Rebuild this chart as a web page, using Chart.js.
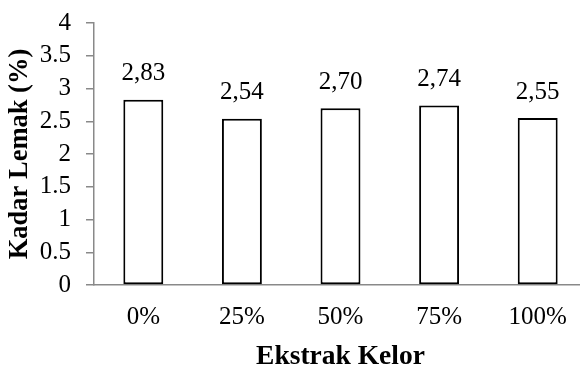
<!DOCTYPE html>
<html>
<head>
<meta charset="utf-8">
<title>Kadar Lemak</title>
<script src="https://cdn.jsdelivr.net/npm/chart.js@4/dist/chart.umd.min.js"></script>
<style>
  html, body { margin: 0; padding: 0; background: #fff; overflow: hidden; }
  #wrap { width: 588px; height: 365px; }
</style>
</head>
<body>
<div id="wrap"><canvas id="lemakChart" width="588" height="365"></canvas></div>
<script>
var categories = ['0%', '25%', '50%', '75%', '100%'];
var kadarLemak = [2.83, 2.54, 2.70, 2.74, 2.55];
var yTicks = [0, 0.5, 1, 1.5, 2, 2.5, 3, 3.5, 4];

var serif = '"Liberation Serif", "Times New Roman", serif';
var axisGrey = '#898989';

// nilai di atas batang, pakai koma desimal
var valueLabels = {
    id: 'valueLabels',
    afterDatasetsDraw: function(chart) {
        var ctx = chart.ctx;
        var meta = chart.getDatasetMeta(0);
        ctx.save();
        ctx.font = '25px ' + serif;
        ctx.fillStyle = '#000';
        ctx.textAlign = 'center';
        ctx.textBaseline = 'middle';
        meta.data.forEach(function(bar, i) {
            var text = kadarLemak[i].toFixed(2).replace('.', ',');
            ctx.fillText(text, bar.x, bar.y - 26);
        });
        ctx.restore();
    }
};

var ctx = document.getElementById('lemakChart').getContext('2d');
var chart = new Chart(ctx, {
    type: 'bar',
    data: {
        labels: categories,
        datasets: [{
            data: kadarLemak,
            backgroundColor: '#ffffff',
            borderColor: '#000000',
            borderWidth: 2,
            borderSkipped: false,
            barPercentage: 0.405,
            categoryPercentage: 1
        }]
    },
    options: {
        responsive: false,
        animation: false,
        layout: { padding: { top: 23, left: 0, right: 1, bottom: 0 } },
        plugins: {
            legend: { display: false },
            tooltip: { enabled: false }
        },
        scales: {
            x: {
                grid: { display: false, drawTicks: false },
                border: { display: true, color: axisGrey, width: 1.5 },
                ticks: {
                    color: '#000',
                    font: { family: serif, size: 25 },
                    padding: 17
                },
                title: {
                    display: true,
                    text: 'Ekstrak Kelor',
                    color: '#000',
                    font: { family: serif, size: 27.5, weight: 'bold', lineHeight: 0.6 },
                    padding: 0
                },
                afterFit: function(scale) { scale.height = 80; }
            },
            y: {
                min: 0,
                max: 4,
                afterBuildTicks: function(scale) {
                    scale.ticks = yTicks.map(function(v) { return { value: v }; });
                },
                grid: {
                    drawOnChartArea: false,
                    drawTicks: true,
                    tickLength: 8,
                    color: axisGrey,
                    lineWidth: 1.5
                },
                border: { display: true, color: axisGrey, width: 1.5 },
                ticks: {
                    color: '#000',
                    font: { family: serif, size: 25 },
                    padding: 15,
                    autoSkip: false,
                    callback: function(v) { return String(v); }
                },
                title: {
                    display: true,
                    text: 'Kadar Lemak (%)',
                    color: '#000',
                    font: { family: serif, size: 26.5, weight: 'bold' },
                    padding: { top: 4, bottom: 0 }
                },
                afterFit: function(scale) {
                    scale.width = 94;
                    scale.paddingTop = 0;
                    scale.paddingBottom = 0;
                }
            }
        }
    },
    plugins: [valueLabels]
});
</script>
</body>
</html>
